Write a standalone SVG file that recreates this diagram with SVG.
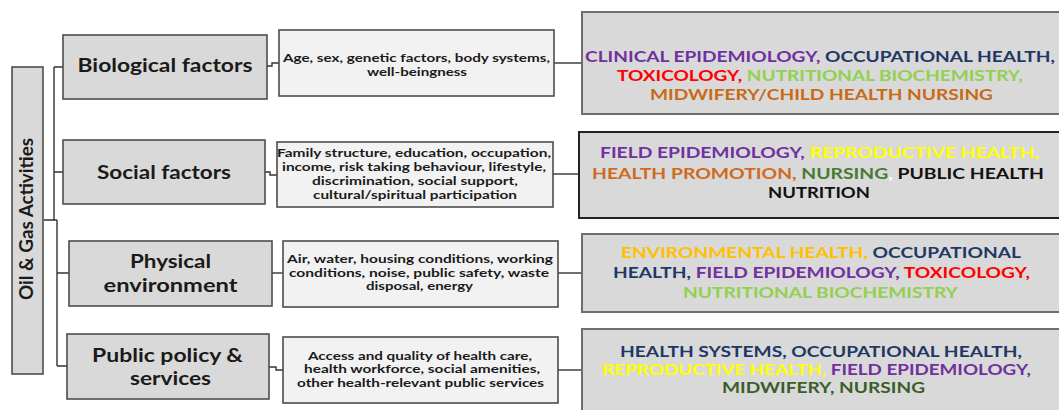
<svg xmlns="http://www.w3.org/2000/svg" width="1059" height="410" viewBox="0 0 1059 410">
<style>
text{font-family:Lato,"Open Sans","Liberation Sans",sans-serif;font-weight:bold;text-anchor:middle}
.l1 rect{fill:#d9d9d9;stroke:#4d4d4d;stroke-width:1.6}
.l2 rect{fill:#f2f2f2;stroke:#4d4d4d;stroke-width:1.6}
.l3 rect{fill:#d9d9d9;stroke:#6e6e6e;stroke-width:2}
.t1{font-size:19px;fill:#1a1a1a}
.t2{font-size:11px;fill:#1a1a1a}
.t3{font-size:15px}
.pu{fill:#7030a0}.nv{fill:#1f3864}.rd{fill:#ff0000}.lg{fill:#92d050}.or{fill:#c96a14}.ho{fill:#cf6a1e}
.ye{fill:#ffff00}.go{fill:#ffc000}.dg{fill:#477a34}.dg2{fill:#3b5e29}.bk{fill:#111}.wh{fill:#fff}
#connectors path{fill:none;stroke:#333;stroke-width:1.4}
</style>
<rect width="1059" height="410" fill="#fff"/>
<g id="connectors">
<path d="M54,67 V220 M44,220 H57 M57,220 V366 M54,67 H63 M54,172 H63 M57,273 H69 M57,366 H67"/>
<path d="M267,66 H272 V63 H279"/>
<path d="M265,172 H270 V175 H277"/>
<path d="M272,273 H283"/>
<path d="M269,367 H276 V370 H283"/>
<path d="M553,63 H582"/>
<path d="M552,174 H579"/>
<path d="M558,273 H582"/>
<path d="M558,370 H582"/>
</g>
<g id="oil-gas" class="l1">
<rect x="12" y="67" width="31" height="307"/>
<text class="t1" transform="translate(33,219) rotate(-90)" textLength="162" lengthAdjust="spacingAndGlyphs">Oil &amp; Gas Activities</text>
</g>
<g id="biological" class="l1">
<rect x="63" y="35" width="204" height="64"/>
<text class="t1" x="165" y="72" textLength="175" lengthAdjust="spacingAndGlyphs">Biological factors</text>
</g>
<g id="social" class="l1">
<rect x="63" y="140" width="202" height="64"/>
<text class="t1" x="164" y="179" textLength="134" lengthAdjust="spacingAndGlyphs">Social factors</text>
</g>
<g id="physical" class="l1">
<rect x="69" y="241" width="203" height="65"/>
<text class="t1" x="170.5" y="268" textLength="81" lengthAdjust="spacingAndGlyphs">Physical</text>
<text class="t1" x="170.5" y="292" textLength="134" lengthAdjust="spacingAndGlyphs">environment</text>
</g>
<g id="public" class="l1">
<rect x="67" y="334" width="202" height="65"/>
<text class="t1" x="167.5" y="362" textLength="151" lengthAdjust="spacingAndGlyphs">Public policy &amp;</text>
<text class="t1" x="170.5" y="385" textLength="81" lengthAdjust="spacingAndGlyphs">services</text>
</g>
<g id="bio-details" class="l2">
<rect x="279" y="30" width="275" height="66"/>
<text class="t2" x="416.5" y="62" textLength="267" lengthAdjust="spacingAndGlyphs">Age, sex, genetic factors, body systems,</text>
<text class="t2" x="417" y="76" textLength="100" lengthAdjust="spacingAndGlyphs">well-beingness</text>
</g>
<g id="social-details" class="l2">
<rect x="277" y="142" width="276" height="65"/>
<text class="t2" x="414" y="157" textLength="274" lengthAdjust="spacingAndGlyphs">Family structure, education, occupation,</text>
<text class="t2" x="414" y="171" textLength="264" lengthAdjust="spacingAndGlyphs">income, risk taking behaviour, lifestyle,</text>
<text class="t2" x="415" y="185" textLength="206" lengthAdjust="spacingAndGlyphs">discrimination, social support,</text>
<text class="t2" x="415" y="199" textLength="204" lengthAdjust="spacingAndGlyphs">cultural/spiritual participation</text>
</g>
<g id="physical-details" class="l2">
<rect x="283" y="241" width="275" height="66"/>
<text class="t2" x="420" y="263" textLength="266" lengthAdjust="spacingAndGlyphs">Air, water, housing conditions, working</text>
<text class="t2" x="419" y="277" textLength="260" lengthAdjust="spacingAndGlyphs">conditions, noise, public safety, waste</text>
<text class="t2" x="419.5" y="290" textLength="107" lengthAdjust="spacingAndGlyphs">disposal, energy</text>
</g>
<g id="public-details" class="l2">
<rect x="283" y="337" width="275" height="66"/>
<text class="t2" x="420" y="360" textLength="224" lengthAdjust="spacingAndGlyphs">Access and quality of health care,</text>
<text class="t2" x="422" y="373" textLength="236" lengthAdjust="spacingAndGlyphs">health workforce, social amenities,</text>
<text class="t2" x="420.5" y="387" textLength="247" lengthAdjust="spacingAndGlyphs">other health-relevant public services</text>
</g>
<g id="bio-disciplines" class="l3">
<rect x="582" y="12" width="480" height="102"/>
<text class="t3" x="820" y="62" textLength="470" lengthAdjust="spacingAndGlyphs"><tspan class="pu">CLINICAL EPIDEMIOLOGY, </tspan><tspan class="nv">OCCUPATIONAL HEALTH,</tspan></text>
<text class="t3" x="820" y="81" textLength="406" lengthAdjust="spacingAndGlyphs"><tspan class="rd">TOXICOLOGY, </tspan><tspan class="lg">NUTRITIONAL BIOCHEMISTRY,</tspan></text>
<text class="t3 or" x="821.5" y="100" textLength="343" lengthAdjust="spacingAndGlyphs">MIDWIFERY/CHILD HEALTH NURSING</text>
</g>
<g id="social-disciplines" class="l3">
<rect x="579" y="132" width="483" height="86" style="stroke:#222"/>
<text class="t3" x="819.5" y="158" textLength="439" lengthAdjust="spacingAndGlyphs"><tspan class="pu">FIELD EPIDEMIOLOGY, </tspan><tspan class="ye">REPRODUCTIVE HEALTH,</tspan></text>
<text class="t3" x="818" y="179" textLength="452" lengthAdjust="spacingAndGlyphs"><tspan class="ho">HEALTH PROMOTION, </tspan><tspan class="dg">NURSING</tspan><tspan class="wh">, </tspan><tspan class="bk">PUBLIC HEALTH</tspan></text>
<text class="t3 bk" x="819" y="198" textLength="102" lengthAdjust="spacingAndGlyphs">NUTRITION</text>
</g>
<g id="physical-disciplines" class="l3">
<rect x="582" y="234" width="480" height="78"/>
<text class="t3" x="821" y="258" textLength="400" lengthAdjust="spacingAndGlyphs"><tspan class="go">ENVIRONMENTAL HEALTH, </tspan><tspan class="nv">OCCUPATIONAL</tspan></text>
<text class="t3" x="821.5" y="278" textLength="417" lengthAdjust="spacingAndGlyphs"><tspan class="nv">HEALTH, </tspan><tspan class="pu">FIELD EPIDEMIOLOGY, </tspan><tspan class="rd">TOXICOLOGY,</tspan></text>
<text class="t3 lg" x="820.5" y="298" textLength="275" lengthAdjust="spacingAndGlyphs">NUTRITIONAL BIOCHEMISTRY</text>
</g>
<g id="public-disciplines" class="l3">
<rect x="582" y="329" width="480" height="90"/>
<text class="t3" x="821" y="357" textLength="402" lengthAdjust="spacingAndGlyphs"><tspan class="nv">HEALTH SYSTEMS, OCCUPATIONAL HEALTH,</tspan></text>
<text class="t3" x="816.5" y="375" textLength="429" lengthAdjust="spacingAndGlyphs"><tspan class="ye">REPRODUCTIVE HEALTH, </tspan><tspan class="pu">FIELD EPIDEMIOLOGY,</tspan></text>
<text class="t3 dg2" x="823.5" y="393" textLength="203" lengthAdjust="spacingAndGlyphs">MIDWIFERY, NURSING</text>
</g>
</svg>
